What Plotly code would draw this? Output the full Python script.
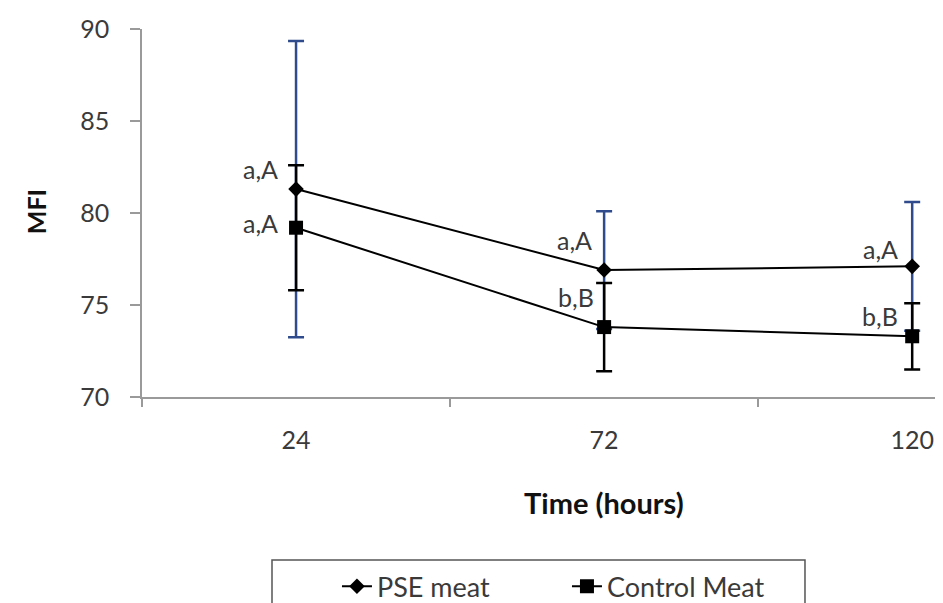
import plotly.graph_objects as go

# ---- data ----
times = ["24", "72", "120"]
pse_mean = [81.3, 76.9, 77.1]
pse_err = [8.05, 3.2, 3.5]
ctrl_mean = [79.2, 73.8, 73.3]
ctrl_err = [3.4, 2.4, 1.8]
pse_labels = ["a,A", "a,A", "a,A"]
ctrl_labels = ["a,A", "b,B", "b,B"]
series_names = ["PSE meat", "Control Meat"]
y_ticks = [70, 75, 80, 85, 90]

# ---- style ----
FONT = "Lato"
TXT = "#3a3a3a"
AX = "#9a9a9a"
BLUE = "#2f4b8c"
pse_shift = [(-16, 20), (-10, 30), (-12, 17)]
ctrl_shift = [(-16, 5), (-8, 30), (-12, 20)]

fig = go.Figure()
fig.add_trace(go.Scatter(
    x=times, y=pse_mean, name=series_names[0], mode="lines+markers",
    line=dict(color="black", width=2),
    marker=dict(symbol="diamond", size=12, color="black"),
    error_y=dict(type="data", array=pse_err, visible=True, color=BLUE, thickness=2.5, width=8),
))
fig.add_trace(go.Scatter(
    x=times, y=ctrl_mean, name=series_names[1], mode="lines+markers",
    line=dict(color="black", width=2),
    marker=dict(symbol="square", size=14, color="black"),
    error_y=dict(type="data", array=ctrl_err, visible=True, color="black", thickness=2.5, width=8),
))

annotations = []
for ys, labs, shifts in [(pse_mean, pse_labels, pse_shift),
                         (ctrl_mean, ctrl_labels, ctrl_shift)]:
    for i, (yv, lab, (dx, dy)) in enumerate(zip(ys, labs, shifts)):
        annotations.append(dict(
            x=i, y=yv, xref="x", yref="y", text=lab, showarrow=False,
            xanchor="right", yanchor="middle", xshift=dx, yshift=dy,
            font=dict(family=FONT, size=25, color=TXT)))

annotations.append(dict(
    x=0.577, y=-0.288, xref="paper", yref="paper", text="<b>Time (hours)</b>",
    showarrow=False, xanchor="center", yanchor="middle",
    font=dict(family=FONT, size=29, color="#111")))
annotations.append(dict(
    x=-0.132, y=0.503, xref="paper", yref="paper", text="<b>MFI</b>",
    showarrow=False, xanchor="center", yanchor="middle", textangle=-90,
    font=dict(family=FONT, size=25, color="#111")))

# legend frame (extends past the bottom edge, as in the reference)
shapes = [dict(type="rect", xref="paper", yref="paper",
               x0=0.1623, x1=0.8277, y0=-0.443, y1=-0.75,
               line=dict(color="#555", width=1.5), fillcolor="rgba(0,0,0,0)", layer="below")]

fig.update_layout(
    width=935, height=595,
    margin=dict(l=134, r=0, t=21, b=206, autoexpand=False),
    paper_bgcolor="white", plot_bgcolor="white",
    font=dict(family=FONT, color=TXT),
    showlegend=True,
    legend=dict(
        orientation="h", x=0.2434, y=-0.449, xanchor="left", yanchor="top",
        borderwidth=0, bgcolor="rgba(0,0,0,0)",
        font=dict(family=FONT, size=27, color=TXT),
        entrywidth=185, entrywidthmode="pixels",
    ),
    annotations=annotations,
    shapes=shapes,
    xaxis=dict(
        type="category", range=[-0.5, 2.1], tickson="boundaries",
        ticks="outside", ticklen=8, tickcolor=AX, tickwidth=1.5,
        showline=True, linecolor=AX, linewidth=1.5, showgrid=False,
        tickfont=dict(family=FONT, size=25, color=TXT), ticklabelstandoff=20,
        zeroline=False,
    ),
    yaxis=dict(
        range=[70, 90], tickvals=y_ticks,
        ticks="outside", ticklen=10, tickcolor=AX, tickwidth=1.5,
        showline=True, linecolor=AX, linewidth=1.5, showgrid=False,
        tickfont=dict(family=FONT, size=25, color=TXT), ticklabelstandoff=16,
        zeroline=False,
    ),
)

fig.write_html("out.html")
